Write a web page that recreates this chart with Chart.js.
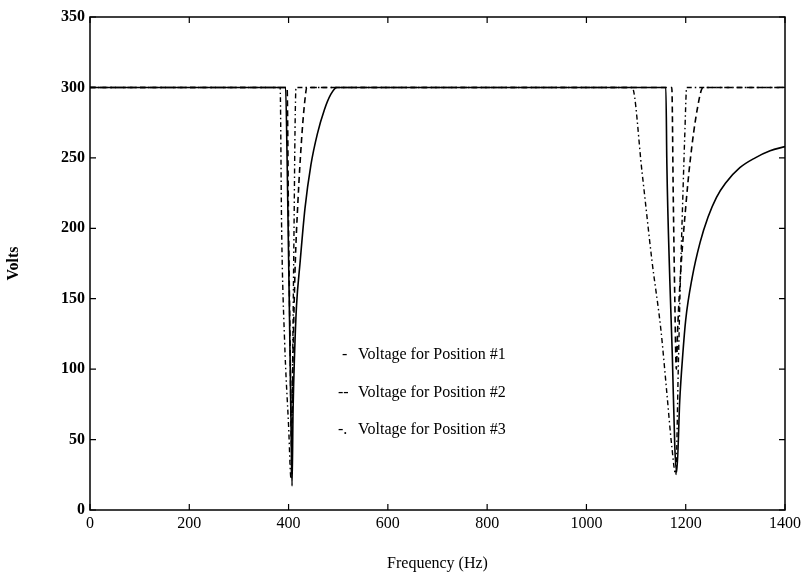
<!DOCTYPE html>
<html>
<head>
<meta charset="utf-8">
<script src="https://cdn.jsdelivr.net/npm/chart.js@4/dist/chart.umd.min.js"></script>
<style>
  html, body { margin: 0; padding: 0; background: #fff; }
  #wrap { width: 805px; height: 577px; }
</style>
</head>
<body>
<div id="wrap"><canvas id="myChart"></canvas></div>
<script>
// frequency (Hz) / voltage (V) for each position
let freqPos1 = [0, 394, 397, 400, 403, 405, 407, 409, 412, 416, 423, 433, 445, 458, 472, 485, 497,
  1160, 1162, 1168, 1173, 1178, 1182, 1188, 1194, 1200, 1213, 1229, 1245, 1262, 1280, 1309, 1340, 1370, 1400];
let voltsPos1 = [300, 300, 250, 180, 110, 60, 17, 70, 110, 145, 175, 214, 245, 267, 284, 295, 300,
  300, 246, 163, 110, 45, 27, 78, 110, 135, 165, 190, 208, 222, 232, 243, 250, 255, 258];

let freqPos2 = [0, 397, 400, 403, 406, 409, 413, 419, 426, 432, 437,
  1172, 1175, 1178, 1181, 1184, 1190, 1200, 1209, 1223, 1235, 1400];
let voltsPos2 = [300, 300, 200, 120, 45, 110, 170, 220, 262, 288, 300,
  300, 220, 150, 100, 130, 170, 215, 248, 284, 300, 300];

let freqPos3 = [0, 383, 386, 392, 400, 405, 408, 411, 413, 415,
  1092, 1112, 1132, 1150, 1162, 1172, 1180, 1185, 1189, 1194, 1198, 1202, 1400];
let voltsPos3 = [300, 300, 200, 120, 60, 22, 100, 200, 270, 300,
  300, 240, 177, 128, 83, 45, 25, 100, 160, 220, 265, 300, 300];

let seriesNames = ["Voltage for Position #1", "Voltage for Position #2", "Voltage for Position #3"];
let seriesMarks = ["-", "--", "-."];

let xTicks = [0, 200, 400, 600, 800, 1000, 1200, 1400];
let yTicks = [0, 50, 100, 150, 200, 250, 300, 350];

const serif = '"Liberation Serif", "Times New Roman", serif';

function toPoints(xs, ys) {
  return xs.map((v, i) => ({ x: v, y: ys[i] }));
}

// box around the plot, inward ticks on all four sides, and the text legend
const framePlugin = {
  id: "frame",
  afterDraw(chart) {
    const ctx = chart.ctx;
    const a = chart.chartArea;
    const x = chart.scales.x;
    const y = chart.scales.y;
    ctx.save();
    ctx.strokeStyle = "#000";
    ctx.lineWidth = 1.5;
    ctx.strokeRect(a.left, a.top, a.right - a.left, a.bottom - a.top);
    ctx.lineWidth = 1.2;
    ctx.beginPath();
    xTicks.forEach(function (t) {
      let px = x.getPixelForValue(t);
      ctx.moveTo(px, a.bottom); ctx.lineTo(px, a.bottom - 6);
      ctx.moveTo(px, a.top); ctx.lineTo(px, a.top + 6);
    });
    yTicks.forEach(function (t) {
      let py = y.getPixelForValue(t);
      ctx.moveTo(a.left, py); ctx.lineTo(a.left + 6, py);
      ctx.moveTo(a.right, py); ctx.lineTo(a.right - 6, py);
    });
    ctx.stroke();

    ctx.fillStyle = "#000";
    ctx.font = "16px " + serif;
    ctx.textBaseline = "middle";
    let lx = a.left + 252;
    let ly = a.top + 338;
    seriesNames.forEach(function (name, i) {
      ctx.fillText(seriesMarks[i], lx - 4 + (i === 0 ? 4 : 0), ly + i * 37.5);
      ctx.fillText(name, lx + 16, ly + i * 37.5);
    });
    ctx.restore();
  }
};

const ctx = document.getElementById("myChart");

new Chart(ctx, {
  type: "scatter",
  data: {
    datasets: [
      {
        label: seriesNames[0],
        data: toPoints(freqPos1, voltsPos1),
        showLine: true,
        borderColor: "#000",
        borderWidth: 1.6,
        pointRadius: 0,
        cubicInterpolationMode: "monotone",
      },
      {
        label: seriesNames[1],
        data: toPoints(freqPos2, voltsPos2),
        showLine: true,
        borderColor: "#000",
        borderWidth: 1.6,
        borderDash: [6, 4],
        pointRadius: 0,
        cubicInterpolationMode: "monotone",
      },
      {
        label: seriesNames[2],
        data: toPoints(freqPos3, voltsPos3),
        showLine: true,
        borderColor: "#000",
        borderWidth: 1.4,
        borderDash: [5, 3, 1.5, 3],
        pointRadius: 0,
        cubicInterpolationMode: "monotone",
      },
    ],
  },
  options: {
    responsive: true,
    maintainAspectRatio: false,
    animation: false,
    layout: { padding: { top: 17, right: 20, left: 0, bottom: 0 } },
    plugins: {
      legend: { display: false },
      tooltip: { enabled: false },
    },
    scales: {
      x: {
        type: "linear",
        min: 0,
        max: 1400,
        afterBuildTicks: function (axis) {
          axis.ticks = xTicks.map(v => ({ value: v }));
        },
        afterFit: function (axis) { axis.height = 67; },
        grid: { display: false, drawTicks: false },
        border: { display: false },
        ticks: {
          color: "#000",
          font: { family: serif, size: 16 },
          padding: 4,
          maxRotation: 0,
          callback: v => String(v),
        },
        title: {
          display: true,
          text: "Frequency (Hz)",
          color: "#000",
          font: { family: serif, size: 16 },
          padding: { top: 18 },
        },
      },
      y: {
        type: "linear",
        min: 0,
        max: 350,
        afterBuildTicks: function (axis) {
          axis.ticks = yTicks.map(v => ({ value: v }));
        },
        afterFit: function (axis) { axis.width = 90; },
        grid: { display: false, drawTicks: false },
        border: { display: false },
        ticks: {
          color: "#000",
          font: { family: serif, size: 16, weight: "bold" },
          padding: 5,
          callback: v => String(v),
        },
        title: {
          display: true,
          text: "Volts",
          color: "#000",
          font: { family: serif, size: 16, weight: "bold" },
          padding: { bottom: 14 },
        },
      },
    },
  },
  plugins: [framePlugin],
});
</script>
</body>
</html>
